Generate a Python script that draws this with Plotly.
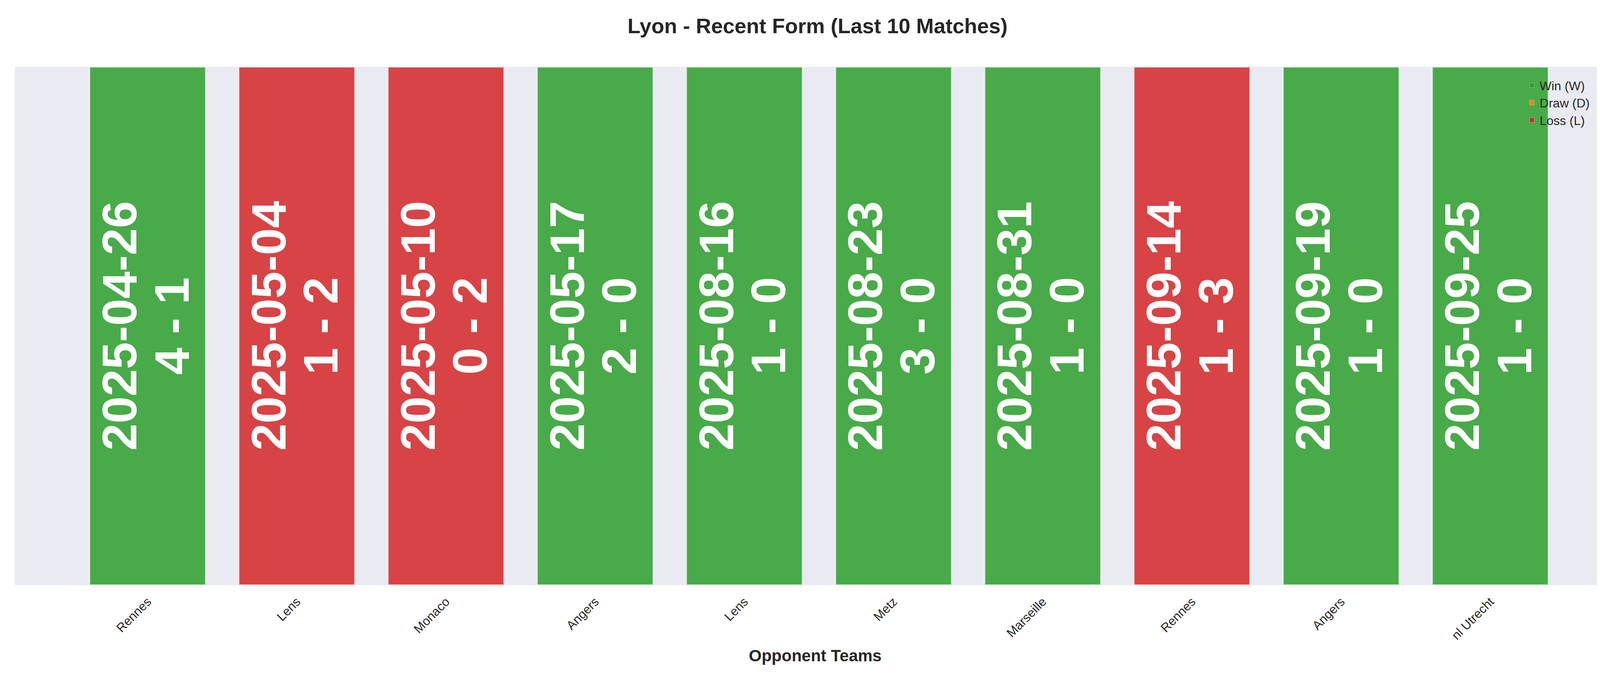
import plotly.graph_objects as go

opponents = ["Rennes", "Lens", "Monaco", "Angers", "Lens", "Metz", "Marseille", "Rennes", "Angers", "nl Utrecht"]
dates = ["2025-04-26", "2025-05-04", "2025-05-10", "2025-05-17", "2025-08-16", "2025-08-23", "2025-08-31", "2025-09-14", "2025-09-19", "2025-09-25"]
scores = ["4 - 1", "1 - 2", "0 - 2", "2 - 0", "1 - 0", "3 - 0", "1 - 0", "1 - 3", "1 - 0", "1 - 0"]
results = ["W", "L", "L", "W", "W", "W", "W", "L", "W", "W"]
heights = [1] * 10

colors = {"W": "#2ca02c", "D": "#ff7f0e", "L": "#d62728"}
names = {"W": "Win (W)", "D": "Draw (D)", "L": "Loss (L)"}

fig = go.Figure()
xs = list(range(len(opponents)))
fig.add_trace(go.Bar(
    x=xs, y=heights, width=0.78,
    marker=dict(color=[colors[r] for r in results], opacity=0.85,
                line=dict(color="rgba(255,255,255,0.7)", width=4)),
    showlegend=False, hoverinfo="skip"))
for k in ["W", "D", "L"]:
    fig.add_trace(go.Bar(x=[None], y=[None], name=names[k], marker_color=colors[k]))

tf = dict(family="Liberation Sans, Arial", size=125, color="white", weight="bold")
for i, (d, s) in enumerate(zip(dates, scores)):
    fig.add_annotation(x=i - 0.19, y=0.5, xref="x", yref="y", text=d, textangle=-90,
                       showarrow=False, font=tf)
    fig.add_annotation(x=i + 0.16, y=0.5, xref="x", yref="y", text=s, textangle=-90,
                       showarrow=False, font=tf)

fig.update_layout(
    width=4170, height=1769,
    paper_bgcolor="white", plot_bgcolor="#EAEAF2",
    margin=dict(l=30, r=42, t=163, b=279),
    title=dict(text="<b>Lyon - Recent Form (Last 10 Matches)</b>", x=0.5, xanchor="center",
               y=0.978, yanchor="top", font=dict(family="Liberation Sans, Arial", size=54, color="#262626")),
    font=dict(family="Liberation Sans, Arial", color="#262626"),
    barmode="overlay",
    legend=dict(x=0.985, y=0.985, xanchor="right", yanchor="top", bgcolor="rgba(0,0,0,0)",
                font=dict(size=32)),
    xaxis=dict(range=[-0.89, 9.84], tickvals=xs, ticktext=opponents, tickangle=-45,
               tickfont=dict(size=32), showgrid=False, zeroline=False, ticks="outside",
               ticklen=10, tickcolor="rgba(0,0,0,0)",
               title=dict(text="<b>Opponent Teams</b>", font=dict(size=42), standoff=20)),
    yaxis=dict(range=[0, 1.0], showticklabels=False, showgrid=False, zeroline=False),
)
fig.write_html("out.html")
